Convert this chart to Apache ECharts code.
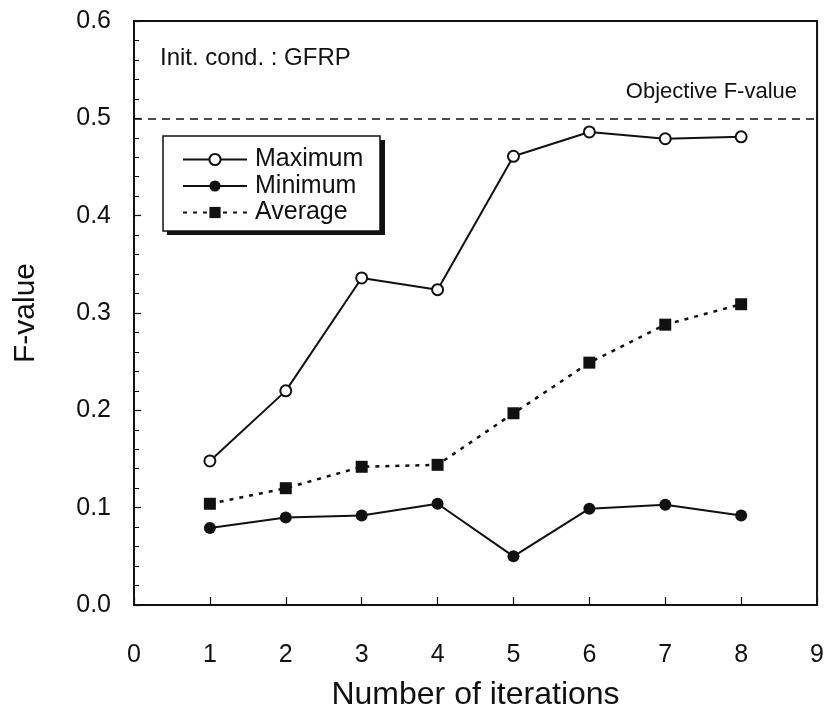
<!DOCTYPE html>
<html>
<head>
<meta charset="utf-8">
<script src="https://cdn.jsdelivr.net/npm/echarts@6/dist/echarts.min.js"></script>
<style>
  html, body { margin: 0; padding: 0; background: #fff; }
  #chart { width: 827px; height: 716px; }
</style>
</head>
<body>
<div id="chart"></div>
<script>
// Iteration numbers and F-value statistics per iteration
var iterations = [1, 2, 3, 4, 5, 6, 7, 8];
var maximumF = [0.148, 0.220, 0.336, 0.324, 0.461, 0.486, 0.479, 0.481];
var minimumF = [0.079, 0.090, 0.092, 0.104, 0.050, 0.099, 0.103, 0.092];
var averageF = [0.104, 0.120, 0.142, 0.144, 0.197, 0.249, 0.288, 0.309];
var objectiveF = 0.5;
var xTicks = [0, 1, 2, 3, 4, 5, 6, 7, 8, 9];
var yTicks = [0.0, 0.1, 0.2, 0.3, 0.4, 0.5, 0.6];

function pairs(xs, ys) {
  return xs.map(function (x, i) { return [x, ys[i]]; });
}

var FONT = 'Liberation Sans, Arial, sans-serif';
var INK = '#111';
var chart = echarts.init(document.getElementById('chart'), null, { renderer: 'canvas' });

var option = {
  animation: false,
  backgroundColor: '#ffffff',
  grid: {
    left: 134, right: 9, top: 21, bottom: 108, containLabel: false,
    show: true, borderColor: INK, borderWidth: 2, backgroundColor: 'transparent'
  },
  xAxis: {
    type: 'value',
    min: xTicks[0],
    max: xTicks[xTicks.length - 1],
    interval: 1,
    name: 'Number of iterations',
    nameLocation: 'middle',
    nameGap: 74,
    nameTextStyle: { fontFamily: FONT, fontSize: 32, color: INK },
    axisLine: { lineStyle: { color: INK, width: 2 } },
    axisTick: { inside: true, length: 8, lineStyle: { color: INK, width: 1.2 } },
    axisLabel: { margin: 38, fontFamily: FONT, fontSize: 25, color: INK },
    splitLine: { show: false }
  },
  yAxis: {
    type: 'value',
    min: yTicks[0],
    max: yTicks[yTicks.length - 1],
    interval: 0.1,
    name: 'F-value',
    nameLocation: 'middle',
    nameGap: 93,
    nameTextStyle: { fontFamily: FONT, fontSize: 30, color: INK },
    axisLine: { lineStyle: { color: INK, width: 2 } },
    axisTick: { inside: true, length: 7, lineStyle: { color: INK, width: 1.2 } },
    minorTick: { show: true, splitNumber: 5, length: 5, lineStyle: { color: INK, width: 1 } },
    axisLabel: {
      margin: 23, fontFamily: FONT, fontSize: 25, color: INK,
      formatter: function (v) { return v.toFixed(1); }
    },
    splitLine: { show: false },
    minorSplitLine: { show: false }
  },
  legend: {
    orient: 'vertical',
    left: 182,
    top: 147,
    padding: 0,
    itemWidth: 64,
    itemHeight: 14,
    itemGap: 1.5,
    textStyle: { fontFamily: FONT, fontSize: 25, color: INK, padding: [0, 0, 0, 3] },
    data: ['Maximum', 'Minimum', 'Average']
  },
  graphic: [
    // legend frame with its drop shadow
    { type: 'rect', z: 1, shape: { x: 167, y: 140, width: 218, height: 95 }, style: { fill: INK } },
    { type: 'rect', z: 2, shape: { x: 163, y: 136, width: 217, height: 95 }, style: { fill: '#fff', stroke: INK, lineWidth: 1.5 } },
    { type: 'text', z: 3, left: 160, top: 46,
      style: { text: 'Init. cond. : GFRP', fontFamily: FONT, fontSize: 24, fill: INK } },
    { type: 'text', z: 3, right: 30, top: 81,
      style: { text: 'Objective F-value', fontFamily: FONT, fontSize: 22, fill: INK } }
  ],
  series: [{
    name: 'Maximum',
    type: 'line',
    data: pairs(iterations, maximumF),
    symbol: 'circle',
    symbolSize: 11,
    showAllSymbol: true,
    lineStyle: { color: INK, width: 2 },
    itemStyle: { color: '#fff', borderColor: INK, borderWidth: 2 },
    z: 5
  }, {
    name: 'Minimum',
    type: 'line',
    data: pairs(iterations, minimumF),
    symbol: 'circle',
    symbolSize: 12,
    lineStyle: { color: INK, width: 2 },
    itemStyle: { color: INK, borderColor: INK, borderWidth: 0 },
    z: 5
  }, {
    name: 'Average',
    type: 'line',
    data: pairs(iterations, averageF),
    symbol: 'rect',
    symbolSize: 12,
    lineStyle: { color: INK, width: 2.5, type: [4, 6] },
    itemStyle: { color: INK, borderWidth: 0 },
    z: 5,
    markLine: {
      silent: true,
      symbol: 'none',
      label: { show: false },
      lineStyle: { color: INK, width: 1.5, type: [8, 6] },
      data: [{ yAxis: objectiveF }]
    }
  }]
};

chart.setOption(option);
</script>
</body>
</html>
